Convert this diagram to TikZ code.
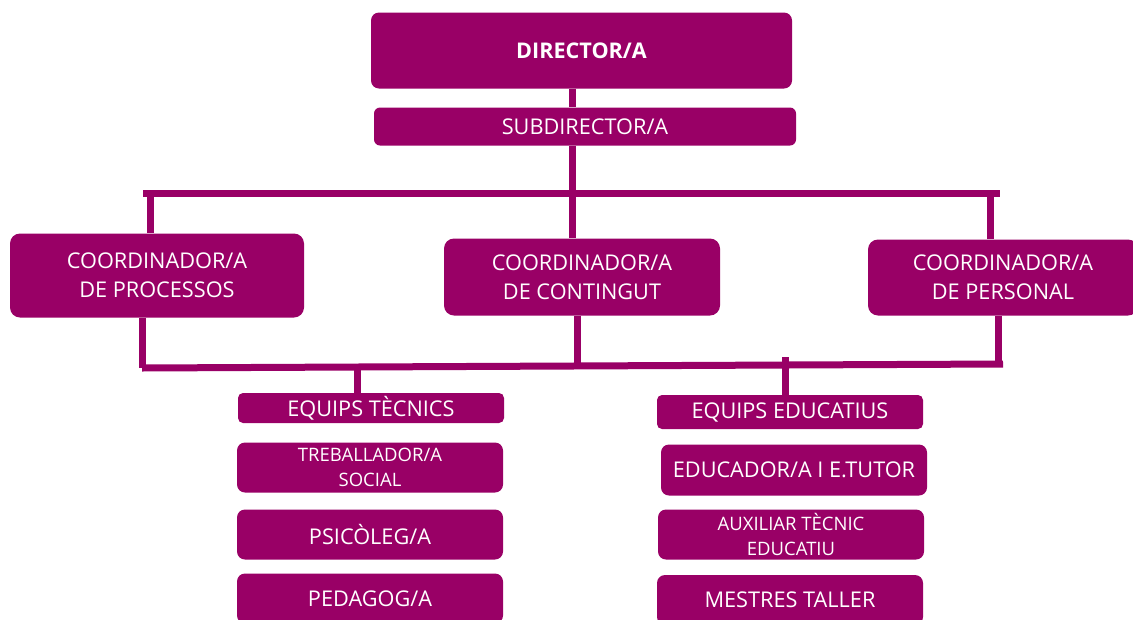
\documentclass[tikz,border=0pt]{standalone}
\usepackage{fontspec}
\setmainfont{Open Sans}
\definecolor{plum}{RGB}{153,0,102}
\begin{document}
\begin{tikzpicture}[x=1pt,y=-1pt,
  box/.style={fill=plum,text=white,rounded corners=8pt,inner sep=0pt,align=center,
    minimum width=266,font=\fontsize{21.7}{29}\selectfont},
  wire/.style={draw=plum,line width=7pt}]
  \useasboundingbox (0,0) rectangle (1133,619);
  \clip (0,0) rectangle (1133,619);
  % top of the chart
  \node[box,minimum width=421,minimum height=76,font=\fontsize{21.6}{29}\selectfont\bfseries] (dir) at (581.5,50.5) {DIRECTOR/A};
  \node[box,minimum width=422,minimum height=38,rounded corners=6pt] (sub) at (585,126.5) {SUBDIRECTOR/A};
  % coordinators
  \node[box,minimum width=294,minimum height=84,rounded corners=10pt] (procs) at (157,275.5) {COORDINADOR/A\\DE PROCESSOS};
  \node[box,minimum width=276,minimum height=77,rounded corners=10pt] (cont) at (582,277) {COORDINADOR/A\\DE CONTINGUT};
  \node[box,minimum width=270,minimum height=76,rounded corners=10pt] (pers) at (1003,277.5) {COORDINADOR/A\\DE PERSONAL};
  % teams
  \node[box,minimum height=30,rounded corners=5pt] (tec) at (371,408) {EQUIPS TÈCNICS};
  \node[box,minimum height=50,font=\fontsize{18.5}{25}\selectfont] (soc) at (370,467.5) {TREBALLADOR/A\\SOCIAL};
  \node[box,minimum height=50] (psi) at (370,534.5) {PSICÒLEG/A};
  \node[box,minimum height=50] (ped) at (370,598.5) {PEDAGOG/A};
  \node[box,minimum height=34,rounded corners=5pt] (edu) at (790,412) {EQUIPS EDUCATIUS};
  \node[box,minimum height=51] (tut) at (794,470) {EDUCADOR/A I E.TUTOR};
  \node[box,minimum height=50,font=\fontsize{18.5}{25}\selectfont] (aux) at (791,534.5) {AUXILIAR TÈCNIC\\EDUCATIU};
  \node[box,minimum height=50] (mes) at (790,600) {MESTRES TALLER};
  % connectors
  \coordinate (spine) at (572,0);
  \coordinate (topL) at (143,193);
  \coordinate (topR) at (1000,193);
  \coordinate (tP) at (150,193);
  \coordinate (tR) at (990,193);
  \coordinate (lowL) at (142,368);
  \coordinate (lowR) at (1003,364);
  \coordinate (lM) at (577,366);
  \coordinate (lR) at (998,364);
  \coordinate (dT) at (357,367);
  \coordinate (dE) at (785,357);
  \draw[wire] (dir.south -| spine) -- (sub.north -| spine);
  \draw[wire] (sub.south -| spine) -- (cont.north -| spine);
  \draw[wire] (topL) -- (topR);
  \draw[wire] (tP) -- (procs.north -| tP);
  \draw[wire] (tR) -- (pers.north -| tR);
  \draw[wire] (procs.south -| lowL) -- (lowL);
  \draw[wire] (cont.south -| lM) -- (lM);
  \draw[wire] (pers.south -| lR) -- (lR);
  \draw[wire] (lowL) -- (lowR);
  \draw[wire] (dT) -- (tec.north -| dT);
  \draw[wire] (dE) -- (edu.north -| dE);
\end{tikzpicture}
\end{document}
